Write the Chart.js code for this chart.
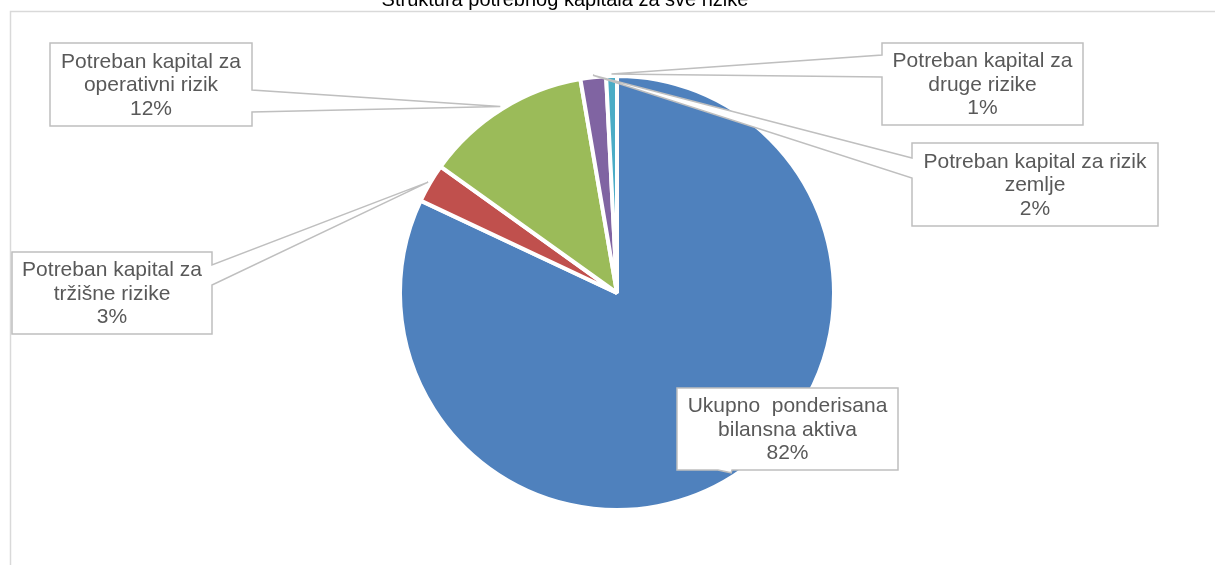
<!DOCTYPE html>
<html>
<head>
<meta charset="utf-8">
<script src="https://cdn.jsdelivr.net/npm/chart.js@4.4.1/dist/chart.umd.min.js"></script>
<style>
  html, body { margin: 0; padding: 0; background: #fff; }
  #wrap { width: 1215px; height: 565px; position: relative; }
</style>
</head>
<body>
<div id="wrap"><canvas id="pieChart" width="1215" height="565"></canvas></div>
<script>
const chartTitle = 'Struktura potrebnog kapitala za sve rizike';

const categories = [
    ['Ukupno  ponderisana', 'bilansna aktiva'],
    ['Potreban kapital za', 'tržišne rizike'],
    ['Potreban kapital za', 'operativni rizik'],
    ['Potreban kapital za rizik', 'zemlje'],
    ['Potreban kapital za', 'druge rizike']
];
const shares = [82.0, 2.9, 12.4, 1.9, 0.8];
const sliceColors = ['#4F81BD', '#C0504D', '#9BBB59', '#8064A2', '#4BACC6'];

// callout boxes (layout only): box, edge the tail leaves from, tail base, tip distance from rim
const callouts = [
    { x: 677, y: 388, w: 221, h: 82, edge: 'bottom', base: [732, 718], tip: -4 },
    { x: 12, y: 252, w: 200, h: 82, edge: 'right', base: [265, 285], tip: 2 },
    { x: 50, y: 43, w: 202, h: 83, edge: 'right', base: [90, 112], tip: 3 },
    { x: 912, y: 143, w: 246, h: 83, edge: 'left', base: [178, 158], tip: 2 },
    { x: 882, y: 43, w: 201, h: 82, edge: 'left', base: [77, 55], tip: 2 }
];

const textColor = '#595959';
const lineColor = '#BFBFBF';
const font = '"Liberation Sans", Arial, sans-serif';

const calloutPlugin = {
    id: 'callouts',
    beforeDraw(chart) {
        const ctx = chart.ctx;
        ctx.save();
        // outer frame of the chart
        ctx.strokeStyle = '#D9D9D9';
        ctx.lineWidth = 1.5;
        ctx.beginPath();
        ctx.moveTo(10.5, 565);
        ctx.lineTo(10.5, 11.5);
        ctx.lineTo(1215, 11.5);
        ctx.stroke();
        // title (cut at the top like the source)
        ctx.fillStyle = '#000';
        ctx.font = '20px ' + font;
        ctx.textAlign = 'center';
        ctx.textBaseline = 'alphabetic';
        ctx.fillText(chartTitle, 565, 6);
        ctx.restore();
    },
    afterDraw(chart) {
        const ctx = chart.ctx;
        const arcs = chart.getDatasetMeta(0).data;
        const total = shares.reduce((a, b) => a + b, 0);
        ctx.save();
        callouts.forEach((c, i) => {
            const arc = arcs[i];
            const mid = (arc.startAngle + arc.endAngle) / 2;
            const r = arc.outerRadius + c.tip;
            const tx = arc.x + Math.cos(mid) * r;
            const ty = arc.y + Math.sin(mid) * r;
            const L = c.x, T = c.y, R = c.x + c.w, B = c.y + c.h;

            ctx.beginPath();
            ctx.moveTo(L, T);
            ctx.lineTo(R, T);
            if (c.edge === 'right') {
                ctx.lineTo(R, c.base[0]);
                ctx.lineTo(tx, ty);
                ctx.lineTo(R, c.base[1]);
            }
            ctx.lineTo(R, B);
            if (c.edge === 'bottom') {
                ctx.lineTo(c.base[0], B);
                ctx.lineTo(tx, ty);
                ctx.lineTo(c.base[1], B);
            }
            ctx.lineTo(L, B);
            if (c.edge === 'left') {
                ctx.lineTo(L, c.base[0]);
                ctx.lineTo(tx, ty);
                ctx.lineTo(L, c.base[1]);
            }
            ctx.closePath();
            ctx.fillStyle = '#fff';
            ctx.fill();
            ctx.strokeStyle = lineColor;
            ctx.lineWidth = 1.5;
            ctx.stroke();

            const lines = categories[i].concat([Math.round(shares[i] / total * 100) + '%']);
            ctx.fillStyle = textColor;
            ctx.font = '21px ' + font;
            ctx.textAlign = 'center';
            ctx.textBaseline = 'middle';
            const lh = 23.5;
            const cy = T + c.h / 2 - lh * (lines.length - 1) / 2 + 1;
            lines.forEach((t, k) => ctx.fillText(t, L + c.w / 2, cy + k * lh));
        });
        ctx.restore();
    }
};

new Chart(document.getElementById('pieChart').getContext('2d'), {
    type: 'pie',
    data: {
        labels: categories,
        datasets: [{
            data: shares,
            backgroundColor: sliceColors,
            borderColor: '#FFFFFF',
            borderWidth: 4,
            hoverOffset: 0,
            offset: 0
        }]
    },
    options: {
        responsive: false,
        animation: false,
        events: [],
        layout: { padding: { top: 74, bottom: 53, left: 19, right: 0 } },
        plugins: {
            legend: { display: false },
            title: { display: false },
            tooltip: { enabled: false }
        }
    },
    plugins: [calloutPlugin]
});
</script>
</body>
</html>
